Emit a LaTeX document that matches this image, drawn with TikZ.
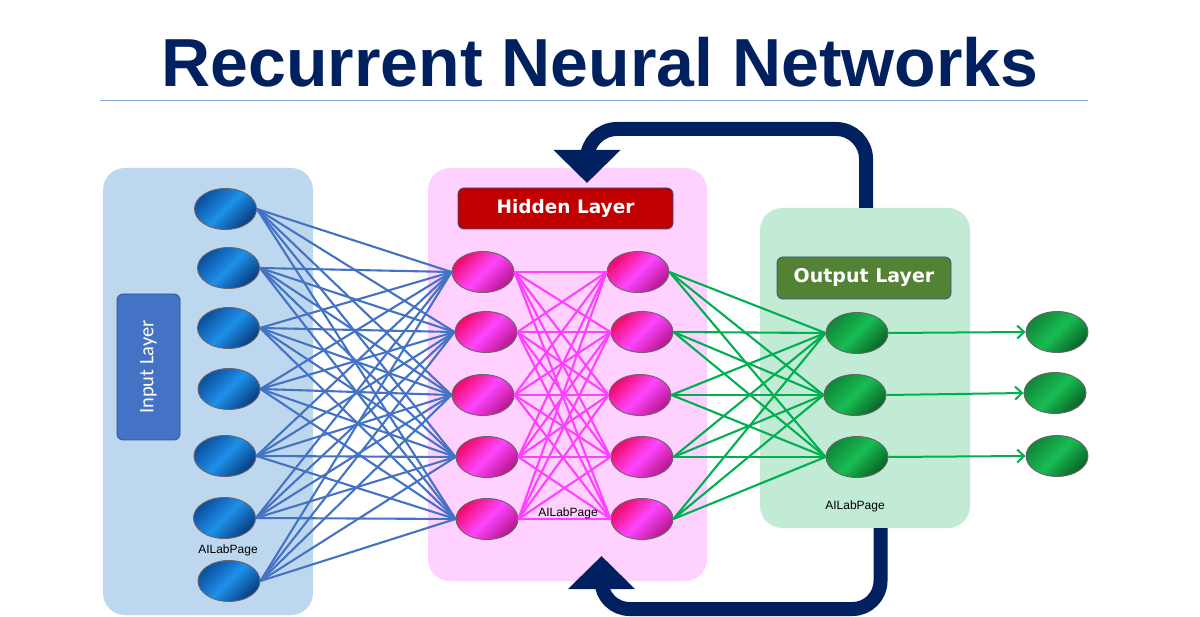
\documentclass[tikz,border=0pt]{standalone}
\usepackage{fontspec}
\setmainfont{Liberation Sans}
\newfontfamily\carlito{Carlito}
\newfontfamily\dejavu{DejaVu Sans}
\usetikzlibrary{shapes.geometric,arrows.meta}
\definecolor{navy}{HTML}{002060}
\definecolor{inbg}{HTML}{BDD7EE}
\definecolor{hidbg}{HTML}{FFD1FF}
\definecolor{outbg}{HTML}{C2EBD6}
\definecolor{inlabc}{HTML}{4472C4}
\definecolor{hidlabc}{HTML}{C00000}
\definecolor{outlabc}{HTML}{548235}
\definecolor{labedge}{HTML}{2F528F}
\definecolor{rulec}{HTML}{8EAADB}
\definecolor{bluelinec}{HTML}{4472C4}
\definecolor{maglinec}{HTML}{FF40FF}
\definecolor{grnlinec}{HTML}{00B050}
\definecolor{bdark}{HTML}{0A4FA0}
\definecolor{blight}{HTML}{1E90E8}
\definecolor{bdeep}{HTML}{083C80}
\definecolor{pdark}{HTML}{F00A6A}
\definecolor{plight}{HTML}{FF45FF}
\definecolor{pdeep}{HTML}{B8168E}
\definecolor{gdark}{HTML}{10873A}
\definecolor{glight}{HTML}{18BC52}
\definecolor{gdeep}{HTML}{0A6426}
\tikzset{
  panel/.style={rounded corners=22pt, inner sep=0pt},
  labbox/.style={rounded corners=6pt, draw=labedge, line width=0.8pt, inner sep=0pt, text=white},
  neuron/.style={ellipse, minimum width=62pt, minimum height=41pt, inner sep=0pt, draw=black!60, line width=0.9pt},
  innode/.style={neuron, top color=bdark, bottom color=bdeep, middle color=blight, shading angle=45},
  hidnode/.style={neuron, top color=pdark, bottom color=pdeep, middle color=plight, shading angle=45},
  outnode/.style={neuron, top color=gdark, bottom color=gdeep, middle color=glight, shading angle=45},
  blueline/.style={draw=bluelinec, line width=2.1pt},
  magline/.style={draw=maglinec, line width=2.1pt},
  grnline/.style={draw=grnlinec, line width=2.1pt},
  grnarrow/.style={draw=grnlinec, line width=2pt, -{Straight Barb[length=7pt,width=13pt]}},
  feedback/.style={draw=navy, line width=14pt, -{Triangle[length=33pt,width=65pt]}},
  brand/.style={font=\fontsize{12}{14}\selectfont, text=black},
}
\begin{document}
\begin{tikzpicture}[x=1pt,y=-1pt]
\useasboundingbox[fill=white] (0,0) rectangle (1200,617);

% title
\node[anchor=base, text=navy, font=\bfseries\fontsize{68}{80}\selectfont] (title) at (600,87) {Recurrent Neural Networks};
\draw[rulec, line width=1pt] (100,101) coordinate (rulel) -- (1088,101) coordinate (ruler);

% panels
\node[panel, fill=inbg, minimum width=210pt, minimum height=447pt] (inbox) at (208,391.5) {};
\node[panel, fill=hidbg, minimum width=279pt, minimum height=413pt] (hidbox) at (567.5,374.5) {};
\node[panel, fill=outbg, minimum width=210pt, minimum height=320pt] (outbox) at (865,368) {};

% labels
\node[labbox, fill=inlabc, rotate=90, minimum width=146pt, minimum height=63pt, font=\carlito\fontsize{20.5}{24}\selectfont] (inlab) at (148.5,367) {Input Layer};
\node[labbox, fill=hidlabc, minimum width=215pt, minimum height=41pt, font=\dejavu\bfseries\fontsize{18.5}{22}\selectfont] (hidlab) at (565.5,208.5) {Hidden Layer};
\node[labbox, fill=outlabc, minimum width=174pt, minimum height=42pt, font=\dejavu\bfseries\fontsize{19}{22}\selectfont] (outlab) at (864,278) {Output Layer};

% neurons
\node[innode] (i1) at (225.5,209) {};
\node[innode] (i2) at (228.5,268) {};
\node[innode] (i3) at (228.5,328) {};
\node[innode] (i4) at (229,389) {};
\node[innode] (i5) at (225,456) {};
\node[innode] (i6) at (224.5,518) {};
\node[innode] (i7) at (229,581) {};

\node[hidnode] (h1) at (483,272) {};
\node[hidnode] (h2) at (486,332) {};
\node[hidnode] (h3) at (483,395) {};
\node[hidnode] (h4) at (487,457) {};
\node[hidnode] (h5) at (487,519) {};

\node[hidnode] (g1) at (638,272) {};
\node[hidnode] (g2) at (642,332) {};
\node[hidnode] (g3) at (640,395) {};
\node[hidnode] (g4) at (642,457) {};
\node[hidnode] (g5) at (642,519) {};

\node[outnode] (o1) at (857,333) {};
\node[outnode] (o2) at (855,395) {};
\node[outnode] (o3) at (857,457) {};

\node[outnode] (f1) at (1057,332) {};
\node[outnode] (f2) at (1055,393) {};
\node[outnode] (f3) at (1057,456) {};

% connections
\foreach \i in {1,...,7}
  \foreach \j in {1,...,5}
    \draw[blueline] (i\i.east) -- (h\j.west);
\foreach \i in {1,...,5}
  \foreach \j in {1,...,5}
    \draw[magline] (h\i.east) -- (g\j.west);
\foreach \i in {1,...,5}
  \foreach \j in {1,...,3}
    \draw[grnline] (g\i.east) -- (o\j.west);
\foreach \j in {1,...,3}
  \draw[grnarrow] (o\j.east) -- (f\j.west);

% brand texts
\node[brand] (br1) at (228,550) {AILabPage};
\node[brand] (br2) at (568,513) {AILabPage};
\node[brand] (br3) at (855,506) {AILabPage};

% feedback loops
\coordinate (toptip) at (587,183);
\coordinate (bottip) at (601.5,556);
\draw[feedback, rounded corners=30pt] ([xshift=1pt]outbox.north) -- (866,129) -- (587,129) -- (toptip);
\draw[feedback, rounded corners=28pt] ([xshift=15.5pt]outbox.south) -- (880.5,609) -- (601.5,609) -- (bottip);
\end{tikzpicture}
\end{document}
